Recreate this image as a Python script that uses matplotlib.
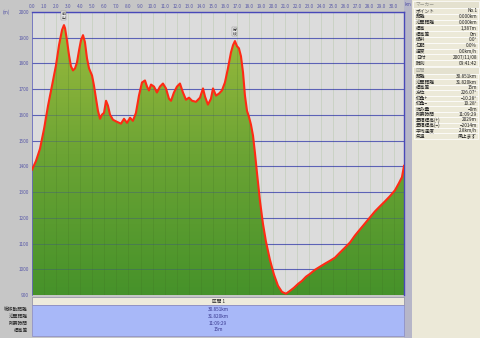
import numpy as np
import matplotlib
matplotlib.use("Agg")
import matplotlib.pyplot as plt
from matplotlib.colors import LinearSegmentedColormap
from matplotlib.patches import Rectangle, Polygon

plt.rcParams['font.family'] = ['Noto Sans CJK JP', 'DejaVu Sans']

# ---------------- data ----------------
dist_km = [0.00, 0.33, 0.66, 1.00, 1.33, 1.66, 1.99, 2.24, 2.49, 2.65, 2.74, 2.90,
           3.07, 3.23, 3.40, 3.57, 3.73, 3.90, 4.06, 4.23, 4.39, 4.56, 4.73, 4.98,
           5.14, 5.31, 5.47, 5.64, 5.80, 5.97, 6.14, 6.30, 6.47, 6.72, 7.05, 7.38,
           7.63, 7.88, 8.13, 8.37, 8.62, 8.87, 9.12, 9.37, 9.54, 9.70, 9.87, 10.12,
           10.36, 10.61, 10.86, 11.11, 11.36, 11.53, 11.77, 12.02, 12.27, 12.52, 12.77,
           13.02, 13.27, 13.60, 13.93, 14.18, 14.35, 14.59, 14.84, 15.01, 15.26, 15.51,
           15.75, 16.00, 16.25, 16.50, 16.67, 16.83, 17.00, 17.16, 17.33, 17.50, 17.66,
           17.83, 17.99, 18.16, 18.33, 18.49, 18.66, 18.91, 19.15, 19.40, 19.73, 20.07,
           20.40, 20.73, 21.06, 21.39, 21.72, 22.06, 22.39, 22.72, 23.05, 23.47, 23.88,
           24.30, 24.71, 25.12, 25.54, 25.95, 26.37, 26.78, 27.20, 27.61, 28.03, 28.44,
           28.86, 29.27, 29.68, 30.10, 30.43, 30.68, 30.85]
elev_m = [1387, 1421, 1468, 1546, 1636, 1714, 1793, 1871, 1930, 1949, 1937, 1890,
          1832, 1789, 1773, 1781, 1804, 1851, 1890, 1910, 1883, 1820, 1781, 1753,
          1714, 1663, 1616, 1585, 1601, 1608, 1655, 1636, 1601, 1581, 1573, 1566,
          1585, 1569, 1589, 1577, 1608, 1675, 1726, 1734, 1710, 1695, 1718, 1710,
          1687, 1710, 1722, 1703, 1663, 1655, 1687, 1710, 1722, 1687, 1659,
          1667, 1655, 1651, 1667, 1703, 1671, 1640, 1663, 1703, 1675, 1683,
          1695, 1726, 1781, 1843, 1871, 1887, 1867, 1859, 1828, 1765, 1675,
          1616, 1593, 1562, 1519, 1452, 1374, 1264, 1178, 1108, 1037, 979,
          936, 912, 905, 916, 928, 943, 955, 971, 982, 998, 1010,
          1022, 1033, 1045, 1065, 1084, 1104, 1131, 1155, 1178, 1202, 1225,
          1245, 1264, 1284, 1307, 1335, 1358, 1402]

x_ticks = [float(i) for i in range(0, 31)]
y_ticks = [900, 1000, 1100, 1200, 1300, 1400, 1500, 1600, 1700, 1800, 1900, 2000]
peak_names = ['前山', '分岐']
peak_km = [2.65, 16.83]
peak_elev = [1949, 1887]

sum_labels = ['総移動距離', '沿面距離', '所要時間', '標高差']
sum_values = ['30.851km', '31.820km', '11:09:29', '15m']
section_title = '区間 1'

sec1_title = 'マーカー'
sec1_labels = ['ポイント', '距離', '沿面距離', '標高', '標高差', '傾斜', '勾配', '速度', '日付', '時刻']
sec1_values = ['No.1', '0.000km', '0.000km', '1,387m', '0m', '0.0°', '0.0%', '0.0km/h',
               '2007/11/08', '09:41:42']
sec2_title = '区間'
sec2_labels = ['距離', '沿面距離', '標高差', '方位', '仰角+', '仰角−', '沈み量', '所要時間',
               '累積標高(+)', '累積標高(−)', '平均速度', '気温']
sec2_values = ['30.851km', '31.820km', '15m', '226.07°', '−10.28°', '10.28°', '−0m',
               '11:09:29', '2029m', '−2014m', '2.8km/h', '風止まず']

# ---------------- figure ----------------
W, H = 480, 338
fig = plt.figure(figsize=(W / 100, H / 100), dpi=100)
fig.patch.set_facecolor('#c6c6c6')

# overlay (pixel coordinates) for the window chrome
ov = fig.add_axes([0, 0, 1, 1], zorder=0)
ov.set_xlim(0, W)
ov.set_ylim(H, 0)
ov.axis('off')

TXT = '#5a5aa8'
FS = 3.4

# right strip + panel
ov.add_patch(Rectangle((404, 0), 8, H, color='#b6b6c8', lw=0))
ov.add_patch(Rectangle((412, 0), 68, H, color='#ece9d8', lw=0))
ov.text(405, 5, 'km', fontsize=FS, color=TXT, va='center', ha='left')

def draw_section(y0, title, labels, values, step):
    ov.add_patch(Rectangle((413, y0), 66, 7, facecolor='#e4e1cf', edgecolor='white', lw=0.5))
    ov.text(416, y0 + 3.5, title, fontsize=FS, color='#9a9a90', va='center')
    y = y0 + 7
    for lab, val in zip(labels, values):
        ov.add_patch(Rectangle((414, y), 64, step, facecolor='#ece9d8', edgecolor='white', lw=0.5))
        ov.text(416, y + step / 2, lab, fontsize=FS, color='#222222', va='center', ha='left')
        ov.text(477, y + step / 2, val, fontsize=FS, color='#222222', va='center', ha='right')
        y += step
    return y

yend = draw_section(1, sec1_title, sec1_labels, sec1_values, 5.8)
draw_section(yend + 1, sec2_title, sec2_labels, sec2_values, 5.4)

# bottom summary area
ov.add_patch(Rectangle((32, 297), 372, 8, facecolor='#eeebdc', edgecolor='#8a8aa0', lw=0.5))
ov.text(218, 301, section_title, fontsize=FS, color='#222222', ha='center', va='center')
ov.add_patch(Rectangle((32, 305), 372, 31, facecolor='#a8b8f8', edgecolor='#8a8ac0', lw=0.5))
for i, (lab, val) in enumerate(zip(sum_labels, sum_values)):
    yy = 309.5 + i * 6.8
    ov.text(218, yy, val, fontsize=FS, color='#3a3a90', ha='center', va='center')
    ov.text(28, yy, lab, fontsize=FS, color='#222222', ha='right', va='center')

ov.text(3, 12, '(m)', fontsize=FS, color=TXT, va='center', ha='left')

# ---------------- chart ----------------
ax = fig.add_axes([32 / W, 1 - 295 / H, 372 / W, 283 / H], zorder=1)
ax.set_facecolor('#dcdcdc')
ax.set_xlim(0, 30.85)
ax.set_ylim(900, 2000)

x = np.array(dist_km)
y = np.array(elev_m)

cmap = LinearSegmentedColormap.from_list('g', ['#46922a', '#6ca434', '#a0bd3e'])
grad = np.linspace(0, 1, 256).reshape(-1, 1)
im = ax.imshow(grad, aspect='auto', cmap=cmap, origin='lower',
               extent=[0, 30.85, 900, 2000], zorder=1)
poly = Polygon(np.column_stack([np.r_[x, x[-1], x[0]], np.r_[y, 900, 900]]),
               closed=True, facecolor='none', edgecolor='none')
ax.add_patch(poly)
im.set_clip_path(poly)

for xt in x_ticks:
    ax.axvline(xt, color='#f4f4f4', lw=0.7, alpha=0.6, zorder=0.5)
    ax.axvline(xt, color='#3c6a20', lw=0.5, alpha=0.25, zorder=2)
for yt in y_ticks:
    ax.axhline(yt, color='#5c5cc8', lw=0.8, alpha=0.85, zorder=0.6)
    ax.axhline(yt, color='#3a4a90', lw=0.7, alpha=0.35, zorder=2)

ax.plot(x, y, color='#ff2a14', lw=1.5, zorder=4, solid_joinstyle='round')

for name, pk, pe in zip(peak_names, peak_km, peak_elev):
    ax.annotate('\n'.join(name), xy=(pk, pe), xytext=(0, 4), textcoords='offset points',
                ha='center', va='bottom', fontsize=2.8, color='#222222', linespacing=0.9,
                bbox=dict(boxstyle='square,pad=0.15', fc='#e8e8e8', ec='#888888', lw=0.3),
                zorder=5, annotation_clip=False)

ax.set_xticks(x_ticks)
ax.set_xticklabels([f'{v:.1f}' for v in x_ticks])
ax.set_yticks(y_ticks)
ax.set_yticklabels([str(v) for v in y_ticks])
ax.xaxis.tick_top()
ax.tick_params(axis='both', length=0, labelsize=FS, colors=TXT, pad=2)
ax.spines['bottom'].set_visible(False)
ax.spines['top'].set_color('#4848b8')
ax.spines['top'].set_linewidth(1.0)
ax.spines['right'].set_color('#4848b8')
ax.spines['right'].set_linewidth(1.0)
ax.spines['left'].set_color('#6a6ac0')
ax.spines['left'].set_linewidth(0.6)

fig.savefig('out.png', dpi=100, facecolor=fig.get_facecolor())
